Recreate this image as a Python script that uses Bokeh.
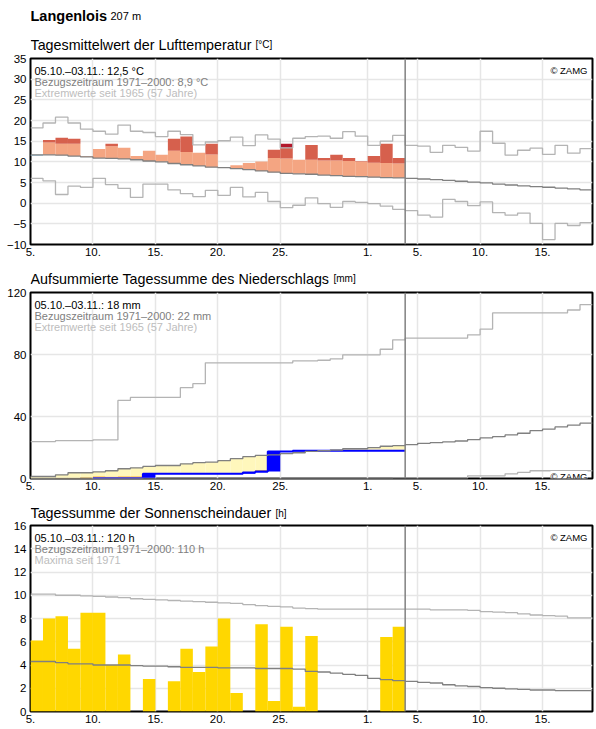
from bokeh.plotting import figure
from bokeh.models import Range1d, FixedTicker, Label, Span
from bokeh.layouts import column
from bokeh.embed import file_html
from bokeh.resources import INLINE

FONT = "Liberation Sans"

# Day index counted from 5 October; day d covers [d, d + 1]
n_days = 45
n_obs = 30
today = 30
tick_pos = [0, 5, 10, 15, 20, 27, 31, 36, 41]
tick_labels = ["5.", "10.", "15.", "20.", "25.", "1.", "5.", "10.", "15."]

# ---- air temperature, daily mean [°C]
temp_obs = [11.5, 15.3, 15.8, 15.6, 11.4, 13.1, 14.4, 13.4, 11.4, 12.7,
            11.7, 15.6, 16.1, 12.2, 14.4, 8.6, 9.2, 9.7, 10.1, 12.9,
            14.4, 10.5, 14.1, 10.9, 11.7, 10.9, 10.2, 11.4, 14.4, 10.9]
temp_upper = [14.9, 14.7, 14.4, 14.4, 14.3, 14.1, 13.8, 13.7, 13.5, 13.3,
              13.0, 12.7, 12.4, 12.2, 11.8, 11.7, 11.4, 11.2, 11.0, 10.9,
              10.8, 10.6, 10.5, 10.3, 10.3, 10.2, 10.1, 9.8, 9.7, 9.6]
temp_norm = [11.7, 11.7, 11.6, 11.4, 11.2, 10.9, 10.85, 10.7, 10.5, 10.2,
             10.0, 9.6, 9.3, 9.0, 8.7, 8.6, 8.35, 8.1, 7.8, 7.5,
             7.2, 7.1, 7.0, 6.8, 6.65, 6.5, 6.4, 6.3, 6.2, 6.1,
             6.0, 5.85, 5.7, 5.5, 5.3, 5.1, 4.9, 4.6, 4.4, 4.2,
             4.0, 3.85, 3.65, 3.45, 3.2]
temp_max = [18.2, 19.4, 20.8, 19.4, 17.9, 17.4, 16.7, 18.9, 17.4, 17.1,
            16.1, 17.4, 16.6, 14.1, 14.8, 15.1, 16.0, 13.9, 16.5, 15.5,
            13.4, 15.7, 16.1, 16.2, 15.7, 17.3, 16.2, 14.0, 15.0, 16.4,
            14.0, 13.8, 12.3, 14.0, 13.5, 12.6, 17.4, 14.5, 11.6, 12.8,
            13.3, 11.8, 14.0, 12.1, 13.2]
temp_min = [6.0, 5.4, 2.1, 4.1, 3.8, 6.0, 4.5, 3.6, 1.4, 4.6,
            4.6, 3.2, 2.3, 1.6, 3.1, 1.9, 3.8, 1.5, 2.6, 0.4,
            -1.1, -0.5, 1.3, -0.1, -1.0, 0.4, 0.2, -0.1, -0.7, -1.5,
            -1.8, -2.9, -3.4, 0.9, 0.4, -0.6, 0.3, -2.3, -2.9, -2.4,
            -4.9, -8.8, -4.9, -5.4, -4.7]
temp_yticks = [-10, -5, 0, 5, 10, 15, 20, 25, 30, 35]

# ---- accumulated precipitation [mm]
prec_obs = [0.0, 0.0, 0.0, 0.0, 0.0, 0.2, 0.2, 0.2, 0.2, 3.0,
            3.0, 3.0, 3.0, 3.0, 3.0, 3.0, 3.0, 3.8, 4.5, 17.5,
            17.5, 17.9, 17.9, 17.9, 17.9, 17.9, 17.9, 17.9, 17.9, 17.9]
prec_low = [0.0, 0.0, 0.3, 0.3, 0.6, 1.4, 1.1, 1.4, 1.4, 1.8,
            2.1, 2.4, 2.6, 2.8, 3.0, 3.5, 3.5, 3.7, 5.5, 5.8,
            6.0, 6.3, 6.6, 6.9, 7.2, 7.5, 7.6, 7.9, 8.2, 8.5]
prec_norm = [1.3, 1.3, 2.4, 3.7, 3.7, 4.3, 5.0, 6.3, 6.9, 7.8,
             8.4, 8.4, 9.5, 10.2, 10.6, 11.5, 12.8, 14.1, 14.9, 15.3,
             16.0, 16.6, 17.5, 17.9, 18.4, 19.2, 19.2, 19.9, 20.8, 21.2,
             21.8, 22.7, 23.1, 23.6, 24.2, 25.1, 26.2, 27.0, 28.1, 29.2,
             30.9, 31.8, 33.3, 34.4, 35.7]
prec_max = [23.8, 23.8, 24.4, 24.4, 24.4, 24.9, 24.9, 50.4, 52.3, 52.3,
            52.3, 52.3, 58.6, 61.2, 74.6, 74.6, 74.6, 74.6, 74.6, 74.6,
            74.6, 75.9, 75.9, 76.3, 77.2, 79.8, 79.8, 79.8, 83.4, 89.5,
            90.6, 90.6, 90.6, 90.6, 90.6, 92.7, 96.4, 106.8, 106.8, 106.8,
            106.8, 106.8, 106.8, 108.7, 112.2]
prec_min = [0.0] * 29 + [0.2, 0.2, 0.2, 0.2, 0.2, 0.2, 1.7, 1.7, 1.7, 3.0,
                         3.9, 5.0, 5.0, 5.0, 5.0, 5.0]
prec_yticks = [0, 40, 80, 120]

# ---- daily sunshine duration [h]
sun_obs = [6.1, 8.0, 8.2, 5.4, 8.5, 8.5, 4.0, 4.9, 0.0, 2.8,
           0.0, 2.6, 5.4, 3.4, 5.6, 8.0, 1.6, 0.0, 7.5, 0.9,
           7.3, 0.4, 6.5, 0.0, 0.0, 0.0, 0.0, 0.0, 6.4, 7.3]
sun_norm = [4.3, 4.3, 4.2, 4.1, 4.1, 4.0, 4.0, 4.0, 3.95, 3.9,
            3.9, 3.85, 3.8, 3.8, 3.8, 3.75, 3.75, 3.75, 3.7, 3.7,
            3.7, 3.65, 3.45, 3.4, 3.3, 3.2, 3.1, 2.85, 2.75, 2.65,
            2.6, 2.5, 2.45, 2.3, 2.2, 2.15, 2.05, 2.0, 1.95, 1.9,
            1.85, 1.85, 1.8, 1.8, 1.8]
sun_max = [10.1, 10.1, 10.0, 10.0, 9.95, 9.9, 9.85, 9.8, 9.7, 9.65,
           9.6, 9.55, 9.5, 9.45, 9.4, 9.35, 9.3, 9.2, 9.1, 9.05,
           9.0, 8.9, 8.85, 8.8, 8.8, 8.8, 8.8, 8.8, 8.8, 8.8,
           8.8, 8.8, 8.75, 8.75, 8.75, 8.7, 8.6, 8.55, 8.5, 8.4,
           8.3, 8.25, 8.2, 8.05, 8.05]
sun_yticks = [0, 2, 4, 6, 8, 10, 12, 14, 16]

FRAME_H = 186
C_NORM = "#808080"
C_EXT = "#b4b4b4"


def text(p, x, y, s, size, color="black", style="normal", align="left", **kw):
    p.add_layout(Label(x=x, y=y, x_units="screen", y_units="screen", text=s,
                       text_font=FONT, text_font_size=size, text_color=color,
                       text_font_style=style, text_align=align,
                       text_baseline="alphabetic", **kw))


def header(height, baseline, title, unit, unit_x, station=False):
    """Strip above a panel holding its title (same side borders as the panels).
    baseline is measured upward from the strip's frame bottom."""
    h = figure(width=596, height=height, x_range=Range1d(0, 1),
               y_range=Range1d(0, 1), x_axis_type=None, y_axis_type=None,
               output_backend="svg", toolbar_location=None,
               min_border_left=30, min_border_right=4, min_border_top=0,
               min_border_bottom=0)
    h.grid.visible = False
    h.outline_line_color = None
    if station:
        text(h, 0, baseline + 29, "Langenlois", "14.5px", style="bold")
        text(h, 80, baseline + 29, "207 m", "11px")
    text(h, 0, baseline, title, "14.3px")
    text(h, unit_x, baseline, unit, "10px")
    return h


def panel(height, top, bottom, y0, y1, yticks):
    p = figure(width=596, height=height, x_range=Range1d(0, n_days),
               y_range=Range1d(y0, y1), output_backend="svg",
               toolbar_location=None, min_border_left=30, min_border_right=4,
               min_border_top=top, min_border_bottom=bottom)
    p.xaxis.ticker = FixedTicker(ticks=tick_pos)
    p.xaxis.major_label_overrides = dict(zip(tick_pos, tick_labels))
    p.yaxis.ticker = FixedTicker(ticks=yticks)
    for ax in (p.xaxis, p.yaxis):
        ax.axis_line_color = None
        ax.major_tick_line_color = None
        ax.minor_tick_line_color = None
        ax.major_tick_out = 0
        ax.major_tick_in = 0
        ax.minor_tick_out = 0
        ax.minor_tick_in = 0
        ax.major_label_text_font = FONT
        ax.major_label_text_font_size = "11.5px"
        ax.major_label_text_color = "black"
    p.xaxis.major_label_standoff = 3
    p.yaxis.major_label_standoff = 4
    p.grid.grid_line_color = "#e6e6e6"
    p.grid.grid_line_width = 1.5
    p.outline_line_color = "black"
    p.outline_line_width = 2
    p.add_layout(Span(location=today, dimension="height",
                      line_color=C_NORM, line_width=1.5))
    return p


def legend(p, lines):
    for i, (s, c) in enumerate(zip(lines, ["#000000", "#808080", "#bdbdbd"])):
        text(p, 4, FRAME_H - 12 - 11 * i, s, "11px", c)


def steps(p, vals, color, width=1.3, start=0):
    xs = list(range(start, len(vals) + 1))
    p.step(x=xs, y=list(vals[start:]) + [vals[-1]], mode="after",
           line_color=color, line_width=width)


def add(q, d, b, t):
    if t > b:
        q[0].append(d)
        q[1].append(d + 1)
        q[2].append(b)
        q[3].append(t)


def new_set():
    return ([], [], [], [])


# ---------------- temperature panel
h1 = header(53, 9, "Tagesmittelwert der Lufttemperatur", "[°C]", 225, station=True)
p1 = panel(209, 5, 18, -10, 35, temp_yticks)
light, dark, record, cold = new_set(), new_set(), new_set(), new_set()
for d in range(n_obs):
    obs, norm, up, tmax = temp_obs[d], temp_norm[d], temp_upper[d], temp_max[d]
    if obs >= norm:
        add(light, d, norm, min(obs, up))
        add(dark, d, up, min(obs, tmax))
        add(record, d, max(tmax, up), obs)
    else:
        add(cold, d, obs, norm)

for q, c in ((light, "#f4a582"), (dark, "#d6604d"), (record, "#b2182b"), (cold, "#92c5de")):
    p1.quad(left=q[0], right=q[1], bottom=q[2], top=q[3], fill_color=c, line_color=None)

steps(p1, temp_max, C_EXT)
steps(p1, temp_min, C_EXT)
steps(p1, temp_norm, C_NORM)

legend(p1, ["05.10.–03.11.: 12,5 °C", "Bezugszeitraum 1971–2000: 8,9 °C",
            "Extremwerte seit 1965 (57 Jahre)"])
text(p1, 557, FRAME_H - 11.5, "© ZAMG", "9.5px", align="right")

# ---------------- precipitation panel
h2 = header(26, 10, "Aufsummierte Tagessumme des Niederschlags", "[mm]", 303)
p2 = panel(209, 4, 19, 0, 120, prec_yticks)
yellow, orange, rain = new_set(), new_set(), new_set()
prev = [0.0] + prec_obs[:-1]
for d in range(n_obs):
    obs, norm, low = prec_obs[d], prec_norm[d], prec_low[d]
    if norm > obs:
        add(yellow, d, max(obs, low), norm)
        add(orange, d, obs, min(low, norm))
    add(rain, d, prev[d], obs)

p2.quad(left=yellow[0], right=yellow[1], bottom=yellow[2], top=yellow[3],
        fill_color="#fff7bc", line_color=None)
p2.quad(left=orange[0], right=orange[1], bottom=orange[2], top=orange[3],
        fill_color="#fec44f", line_color=None)
p2.quad(left=rain[0], right=rain[1], bottom=rain[2], top=rain[3],
        fill_color="#0000ff", line_color=None)
first_rain = next(d for d, v in enumerate(prec_obs) if v > 0)
steps(p2, prec_obs, "#0000ff", 2, start=first_rain)
steps(p2, prec_max, C_EXT)
steps(p2, prec_min, C_EXT)
steps(p2, prec_norm, C_NORM)

legend(p2, ["05.10.–03.11.: 18 mm", "Bezugszeitraum 1971–2000: 22 mm",
            "Extremwerte seit 1965 (57 Jahre)"])
text(p2, 557, 2, "© ZAMG", "9.5px", align="right", background_fill_color="white")

# ---------------- sunshine panel
h3 = header(24, 8.5, "Tagessumme der Sonnenscheindauer", "[h]", 245)
p3 = panel(208, 4, 18, 0, 16, sun_yticks)
p3.quad(left=list(range(n_obs)), right=list(range(1, n_obs + 1)),
        bottom=[0] * n_obs, top=sun_obs, fill_color="#ffd700", line_color=None)
steps(p3, sun_max, C_EXT)
steps(p3, sun_norm, C_NORM)

legend(p3, ["05.10.–03.11.: 120 h", "Bezugszeitraum 1971–2000: 110 h",
            "Maxima seit 1971"])
text(p3, 557, FRAME_H - 11.5, "© ZAMG", "9.5px", align="right")

page = column(h1, p1, h2, p2, h3, p3, spacing=0)
with open("out.html", "w") as f:
    f.write(file_html(page, INLINE))
